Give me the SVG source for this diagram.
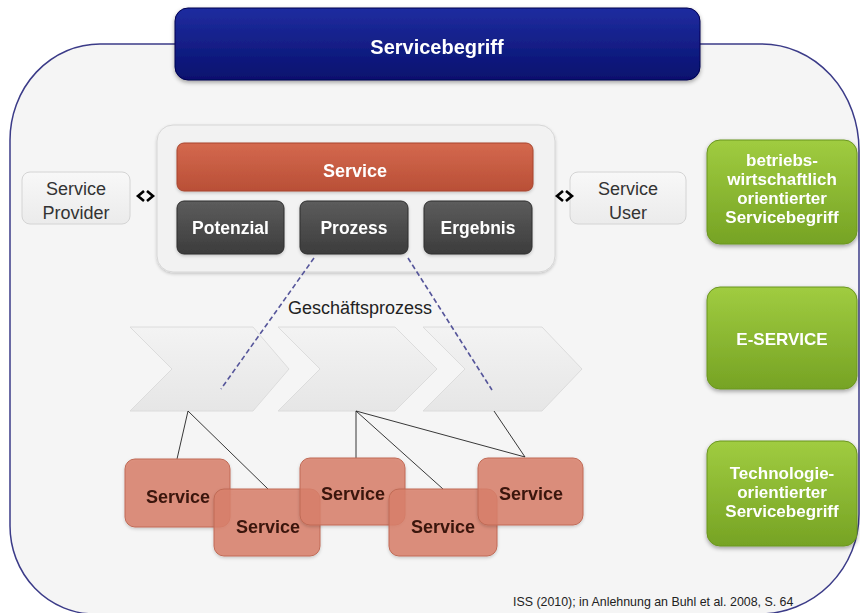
<svg xmlns="http://www.w3.org/2000/svg" width="860" height="613" viewBox="0 0 860 613">
<defs>
<linearGradient id="gHead" x1="0" y1="0" x2="0" y2="1"><stop offset="0" stop-color="#1f2da0"/><stop offset="1" stop-color="#07106e"/></linearGradient>
<linearGradient id="gOrange" x1="0" y1="0" x2="0" y2="1"><stop offset="0" stop-color="#d4694e"/><stop offset="1" stop-color="#b94f36"/></linearGradient>
<linearGradient id="gDark" x1="0" y1="0" x2="0" y2="1"><stop offset="0" stop-color="#5c5c5c"/><stop offset="1" stop-color="#3c3c3c"/></linearGradient>
<linearGradient id="gGreen" x1="0" y1="0" x2="0" y2="1"><stop offset="0" stop-color="#a0cc40"/><stop offset="1" stop-color="#76a324"/></linearGradient>
<linearGradient id="gChev" x1="0" y1="0" x2="0" y2="1"><stop offset="0" stop-color="#f3f3f3"/><stop offset="1" stop-color="#e6e6e6"/></linearGradient>
<linearGradient id="gLight" x1="0" y1="0" x2="0" y2="1"><stop offset="0" stop-color="#f8f8f8"/><stop offset="1" stop-color="#ebebeb"/></linearGradient>
<filter id="sh" x="-10%" y="-10%" width="130%" height="140%"><feDropShadow dx="0" dy="2" stdDeviation="2" flood-color="#000" flood-opacity="0.35"/></filter>
<filter id="shL" x="-10%" y="-10%" width="130%" height="140%"><feDropShadow dx="0" dy="1.5" stdDeviation="1.5" flood-color="#000" flood-opacity="0.2"/></filter>
</defs>
<style>
.lbl{font-family:"Liberation Sans",Arial,sans-serif;text-anchor:middle}
.wb{fill:#fff;font-weight:bold}
.grn{fill:#fff;font-weight:bold;font-size:17px}
.plain{fill:#333;font-size:18px}
.svc{fill:#3a150c;font-weight:bold;font-size:18px}
.salmon{fill:#d9806b;fill-opacity:0.85;stroke:#c06a56;stroke-width:1}
.chev{fill:url(#gChev);stroke:#dcdcdc;stroke-width:1}
.dark{fill:url(#gDark);stroke:#2e2e2e;stroke-width:1}
.green{fill:url(#gGreen);stroke:#6b961f;stroke-width:1}
.light{fill:url(#gLight);stroke:#d4d4d4;stroke-width:1}
.dash{stroke:#55559a;stroke-width:1.6;stroke-dasharray:5 3;fill:none}
.thin{stroke:#222;stroke-width:0.9;fill:none}
.dbl{stroke:#000;stroke-width:2.6;fill:none;stroke-linejoin:miter}
</style>

<path id="frame" d="M100,44 H762 A97,106 0 0 1 859,150 V514 A100,100 0 0 1 759,614 H95 A85,88 0 0 1 10,526 V140 A90,96 0 0 1 100,44 Z" fill="#f5f5f5" stroke="#3b3b88" stroke-width="1.5"/>

<g id="header" filter="url(#sh)">
<rect x="175" y="8" width="525" height="72" rx="13" fill="url(#gHead)" stroke="#000050" stroke-width="1"/>
<text class="lbl wb" x="437" y="54" font-size="20">Servicebegriff</text>
</g>

<g id="container" filter="url(#shL)">
<rect x="157" y="125" width="398" height="147" rx="16" fill="#f2f2f2" stroke="#d6d6d6" stroke-width="1"/>
</g>

<g id="service-bar" filter="url(#shL)">
<rect x="177" y="143" width="356" height="48" rx="7" fill="url(#gOrange)" stroke="#a8452e" stroke-width="1"/>
<text class="lbl wb" x="355" y="177" font-size="18">Service</text>
</g>

<g id="potenzial" filter="url(#shL)">
<rect class="dark" x="177" y="201" width="107" height="53" rx="7"/>
<text class="lbl wb" x="230.5" y="234" font-size="17.5">Potenzial</text>
</g>
<g id="prozess" filter="url(#shL)">
<rect class="dark" x="300" y="201" width="108" height="53" rx="7"/>
<text class="lbl wb" x="354" y="234" font-size="17.5">Prozess</text>
</g>
<g id="ergebnis" filter="url(#shL)">
<rect class="dark" x="424" y="201" width="108" height="53" rx="7"/>
<text class="lbl wb" x="478" y="234" font-size="17.5">Ergebnis</text>
</g>

<g id="provider">
<rect class="light" x="22" y="172" width="108" height="52" rx="8"/>
<text class="lbl plain" x="76" y="195">Service</text>
<text class="lbl plain" x="76" y="219">Provider</text>
</g>
<g id="user">
<rect class="light" x="570" y="172" width="116" height="52" rx="8"/>
<text class="lbl plain" x="628" y="195">Service</text>
<text class="lbl plain" x="628" y="219">User</text>
</g>

<g id="green1" filter="url(#sh)">
<rect class="green" x="707" y="140" width="150" height="104" rx="13"/>
<text class="lbl grn" x="782" y="166">betriebs-</text>
<text class="lbl grn" x="782" y="185">wirtschaftlich</text>
<text class="lbl grn" x="782" y="204">orientierter</text>
<text class="lbl grn" x="782" y="223">Servicebegriff</text>
</g>
<g id="green2" filter="url(#sh)">
<rect class="green" x="707" y="287" width="150" height="102" rx="13"/>
<text class="lbl grn" x="782" y="345">E-SERVICE</text>
</g>
<g id="green3" filter="url(#sh)">
<rect class="green" x="707" y="441" width="150" height="105" rx="13"/>
<text class="lbl grn" x="782" y="479">Technologie-</text>
<text class="lbl grn" x="782" y="498">orientierter</text>
<text class="lbl grn" x="782" y="517">Servicebegriff</text>
</g>

<g id="chevron1"><path class="chev" d="M130,327 H253 L289,369 L253,411 H130 L172,369 Z"/></g>
<g id="chevron2"><path class="chev" d="M278,327 H395 L437,369 L395,411 H278 L320,369 Z"/></g>
<g id="chevron3"><path class="chev" d="M423,327 H542 L582,369 L542,411 H423 L465,369 Z"/></g>

<g id="label-geschaeftsprozess">
<text class="lbl" x="360" y="314" font-size="18" fill="#222">Geschäftsprozess</text>
</g>

<g id="connectors">
<path class="dbl" d="M144,191 L138,196 L144,201 M147,191 L153,196 L147,201"/>
<path class="dbl" d="M563,191 L557,196 L563,201 M566,191 L572,196 L566,201"/>
<line class="dash" x1="314" y1="258" x2="221" y2="389"/>
<line class="dash" x1="408" y1="258" x2="492" y2="390"/>
<line class="thin" x1="188" y1="411" x2="177" y2="459"/>
<line class="thin" x1="188" y1="411" x2="268" y2="489"/>
<line class="thin" x1="356" y1="411" x2="356" y2="458"/>
<line class="thin" x1="356" y1="411" x2="443" y2="489"/>
<line class="thin" x1="356" y1="411" x2="525" y2="457"/>
<line class="thin" x1="494" y1="411" x2="525" y2="457"/>
</g>

<g id="svc1" filter="url(#shL)"><rect class="salmon" x="125" y="459" width="105" height="68" rx="10"/><text class="lbl svc" x="178" y="503">Service</text></g>
<g id="svc2" filter="url(#shL)"><rect class="salmon" x="214" y="489" width="106" height="67" rx="10"/><text class="lbl svc" x="268" y="533">Service</text></g>
<g id="svc3" filter="url(#shL)"><rect class="salmon" x="300" y="458" width="105" height="67" rx="10"/><text class="lbl svc" x="353" y="500">Service</text></g>
<g id="svc4" filter="url(#shL)"><rect class="salmon" x="389" y="489" width="108" height="67" rx="10"/><text class="lbl svc" x="443" y="533">Service</text></g>
<g id="svc5" filter="url(#shL)"><rect class="salmon" x="478" y="458" width="105" height="67" rx="10"/><text class="lbl svc" x="531" y="500">Service</text></g>

<g id="footer">
<text x="513" y="606" font-family="Liberation Sans, Arial, sans-serif" font-size="12.4" fill="#222">ISS (2010); in Anlehnung an Buhl et al. 2008, S. 64</text>
</g>
</svg>
